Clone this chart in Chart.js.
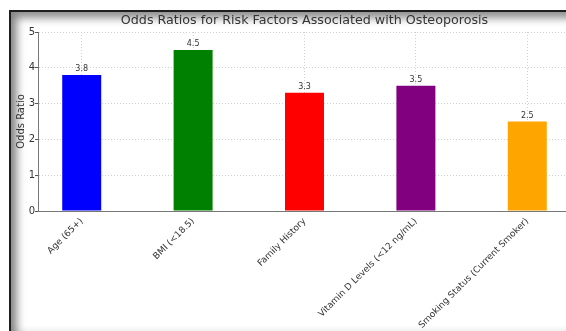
<!DOCTYPE html>
<html>
<head>
<meta charset="utf-8">
<script src="https://cdn.jsdelivr.net/npm/chart.js@4"></script>
<style>
html,body{margin:0;padding:0;background:#fff;width:566px;height:331px;overflow:hidden;}
#frame{position:absolute;left:9px;top:10px;width:600px;height:324px;border-left:2px solid #1e1e1e;border-top:2px solid #1e1e1e;box-shadow:inset 6px 6px 9px rgba(0,0,0,0.45), inset 0 -5px 7px rgba(0,0,0,0.12);}
#c{position:absolute;left:0;top:0;}
</style>
</head>
<body>
<div id="frame"></div>
<canvas id="c" width="571" height="331"></canvas>
<script>
const categories = ["Age (65+)", "BMI (<18.5)", "Family History", "Vitamin D Levels (<12 ng/mL)", "Smoking Status (Current Smoker)"];
const oddsRatios = [3.8, 4.5, 3.3, 3.5, 2.5];
const barColors = ["#0000ff", "#008000", "#ff0000", "#800080", "#ffa500"];
const yTicks = [0, 1, 2, 3, 4, 5];
const titleText = "Odds Ratios for Risk Factors Associated with Osteoporosis";
const yLabel = "Odds Ratio";

const valueLabels = {
  id: 'valueLabels',
  afterDatasetsDraw(chart) {
    const ctx = chart.ctx;
    const meta = chart.getDatasetMeta(0);
    ctx.save();
    ctx.font = '8px "DejaVu Sans"';
    ctx.fillStyle = '#333';
    ctx.textAlign = 'center';
    ctx.textBaseline = 'bottom';
    meta.data.forEach((el, i) => {
      ctx.fillText(oddsRatios[i].toFixed(1), el.x, el.y - 2);
    });
    ctx.restore();
  }
};

const centeredTitle = {
  id: 'centeredTitle',
  afterDraw(chart) {
    const ctx = chart.ctx;
    const a = chart.chartArea;
    ctx.save();
    ctx.font = '12.7px "DejaVu Sans"';
    ctx.fillStyle = '#333';
    ctx.textAlign = 'center';
    ctx.textBaseline = 'middle';
    ctx.fillText(titleText, (a.left + a.right) / 2, a.top - 11);
    ctx.restore();
  }
};

new Chart(document.getElementById('c'), {
  type: 'bar',
  data: {
    datasets: [{
      data: oddsRatios.map((v, i) => ({x: i, y: v})),
      backgroundColor: barColors,
      borderWidth: 0,
      barPercentage: 0.35,
      categoryPercentage: 1.0
    }]
  },
  options: {
    responsive: false,
    devicePixelRatio: 1,
    animation: false,
    layout: {padding: {top: 32, left: 15, right: 0, bottom: 0}},
    plugins: {
      legend: {display: false},
      tooltip: {enabled: false},
      title: {display: false}
    },
    scales: {
      x: {
        type: 'linear',
        offset: false,
        min: -0.3925,
        max: 4.3925,
        z: 1,
        afterBuildTicks(scale) {
          scale.ticks = categories.map((c, i) => ({value: i}));
        },
        afterFit(scale) { scale.height = 120; },
        ticks: {
          autoSkip: false,
          maxRotation: 45,
          minRotation: 45,
          padding: 5,
          color: '#333',
          font: {family: 'DejaVu Sans', size: 9},
          callback: (v) => categories[v]
        },
        grid: {
          offset: false,
          color: '#d0d0d0',
          drawTicks: false,
          tickLength: 4
        },
        border: {display: true, color: '#777', width: 1, dash: [1, 2]}
      },
      y: {
        min: 0,
        max: 5,
        z: 1,
        afterBuildTicks(scale) {
          scale.ticks = yTicks.map(v => ({value: v}));
        },
        afterFit(scale) { scale.width = 23; },
        ticks: {
          color: '#333',
          padding: 0,
          font: {family: 'DejaVu Sans', size: 10}
        },
        title: {
          display: true,
          text: yLabel,
          color: '#333',
          padding: {top: 0, bottom: 0},
          font: {family: 'DejaVu Sans', size: 10}
        },
        grid: {
          color: '#d0d0d0',
          tickColor: '#555',
          tickBorderDash: [],
          tickLength: 3
        },
        border: {display: true, color: '#777', width: 1, dash: [1, 2]}
      }
    }
  },
  plugins: [valueLabels, centeredTitle]
});
</script>
</body>
</html>
